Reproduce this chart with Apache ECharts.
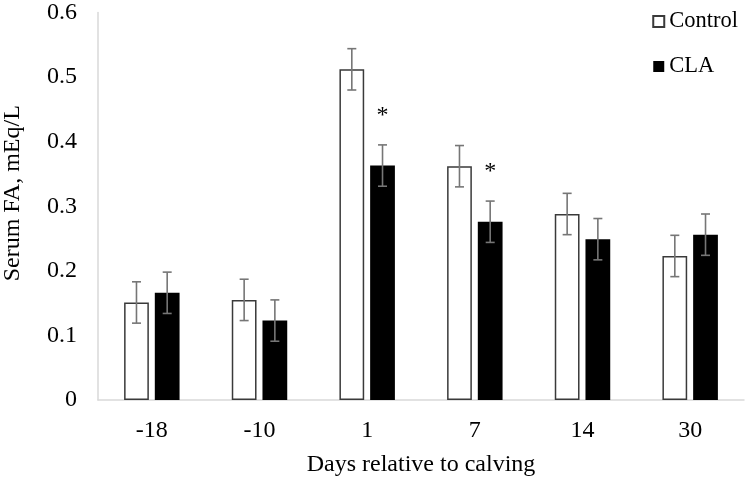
<!DOCTYPE html>
<html>
<head>
<meta charset="utf-8">
<script src="https://cdn.jsdelivr.net/npm/echarts@6/dist/echarts.min.js"></script>
<style>html,body{margin:0;padding:0;background:#fff}#c{width:748px;height:479px}</style>
</head>
<body>
<div id="c"></div>
<script>
var categories = ['-18', '-10', '1', '7', '14', '30'];
var controlValues = [0.151, 0.155, 0.512, 0.362, 0.288, 0.223];
var claValues = [0.166, 0.123, 0.363, 0.276, 0.249, 0.256];
var controlSE = [0.032, 0.032, 0.032, 0.032, 0.032, 0.032];
var claSE = [0.032, 0.032, 0.032, 0.032, 0.032, 0.032];
var claSig = ['', '', '*', '*', '', ''];
var yTicks = [0, 0.1, 0.2, 0.3, 0.4, 0.5, 0.6];

var FONT = 'Liberation Serif';
var BAR_W = 0.23, BAR_GAP = 0.24;

function errSeries(name, values, se, side, sig) {
  var data = values.map(function (v, i) { return [i, v, se[i], sig ? sig[i] : '']; });
  return {
    type: 'custom',
    name: name + ' err',
    z: 5,
    silent: true,
    data: data,
    renderItem: function (params, api) {
      var i = api.value(0), v = api.value(1), e = api.value(2);
      var cw = api.size([1, 0])[0];
      var bw = BAR_W * cw, gap = BAR_GAP * bw;
      var off = side * (bw + gap) / 2;
      var top = api.coord([i, v + e]);
      var bot = api.coord([i, v - e]);
      var x = top[0] + off;
      var cap = 4.5;
      var st = { stroke: '#767676', lineWidth: 1.6 };
      var children = [
        { type: 'line', shape: { x1: x, y1: top[1], x2: x, y2: bot[1] }, style: st },
        { type: 'line', shape: { x1: x - cap, y1: top[1], x2: x + cap, y2: top[1] }, style: st },
        { type: 'line', shape: { x1: x - cap, y1: bot[1], x2: x + cap, y2: bot[1] }, style: st }
      ];
      var s = data[params.dataIndex][3];
      if (s) {
        children.push({ type: 'text', style: { text: s, x: x, y: top[1] - 29, align: 'center', verticalAlign: 'middle', fontFamily: FONT, fontSize: 24, fill: '#000' } });
      }
      return { type: 'group', children: children };
    }
  };
}

var chart = echarts.init(document.getElementById('c'));
chart.setOption({
  animation: false,
  backgroundColor: '#fff',
  textStyle: { fontFamily: FONT, color: '#000' },
  grid: { left: 98, right: 4, top: 12.5, bottom: 79, containLabel: false, outerBoundsMode: 'none' },
  legend: {
    orient: 'vertical',
    right: 5,
    top: 5,
    itemWidth: 11,
    itemHeight: 11,
    itemGap: 22,
    icon: 'rect',
    textStyle: { fontFamily: FONT, fontSize: 22.5, color: '#000' },
    data: ['Control', 'CLA']
  },
  xAxis: {
    type: 'category',
    data: categories,
    name: 'Days relative to calving',
    nameLocation: 'middle',
    nameGap: 53,
    nameTextStyle: { fontFamily: FONT, fontSize: 24, color: '#000' },
    axisLine: { lineStyle: { color: '#d9d9d9', width: 1.5 } },
    axisTick: { show: false },
    axisLabel: { fontFamily: FONT, fontSize: 24, color: '#000', margin: 19 }
  },
  yAxis: {
    type: 'value',
    min: yTicks[0],
    max: yTicks[yTicks.length - 1],
    interval: 0.1,
    name: 'Serum FA, mEq/L',
    nameLocation: 'middle',
    nameGap: 73,
    nameTextStyle: { fontFamily: FONT, fontSize: 24, color: '#000', padding: [0, 0, 0, 26] },
    axisLine: { show: true, lineStyle: { color: '#d9d9d9', width: 1.5 } },
    axisTick: { show: false },
    splitLine: { show: false },
    axisLabel: { fontFamily: FONT, fontSize: 24, color: '#000', margin: 21 }
  },
  series: [
    {
      type: 'bar', name: 'Control', data: controlValues,
      barWidth: (BAR_W * 100) + '%', barGap: (BAR_GAP * 100) + '%',
      itemStyle: { color: '#fff', borderColor: '#3a3a3a', borderWidth: 1.5 }
    },
    {
      type: 'bar', name: 'CLA', data: claValues,
      barWidth: (BAR_W * 100) + '%', barGap: (BAR_GAP * 100) + '%',
      itemStyle: { color: '#000', borderColor: '#000', borderWidth: 0 }
    },
    errSeries('Control', controlValues, controlSE, -1, null),
    errSeries('CLA', claValues, claSE, 1, claSig)
  ]
});
</script>
</body>
</html>
